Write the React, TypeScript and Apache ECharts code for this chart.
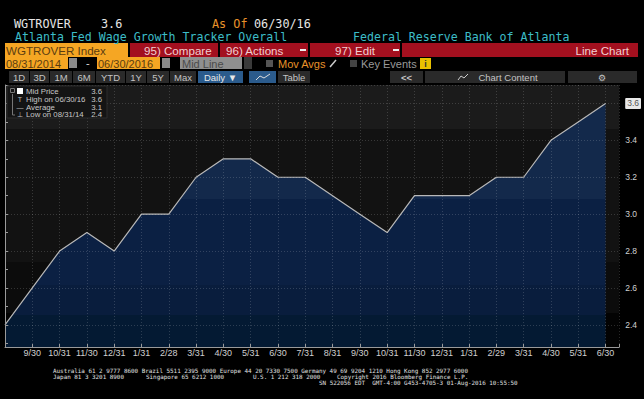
import React, { useEffect, useRef } from "react";
import * as echarts from "echarts";

// ---- data ----
const monthLabels = [
  "8/31", "9/30", "10/31", "11/30", "12/31", "1/31", "2/28", "3/31", "4/30", "5/31", "6/30", "7/31",
  "8/31", "9/30", "10/31", "11/30", "12/31", "1/31", "2/29", "3/31", "4/30", "5/31", "6/30",
];
const wageGrowth = [
  2.4, 2.6, 2.8, 2.9, 2.8, 3.0, 3.0, 3.2, 3.3, 3.3, 3.2, 3.2,
  3.1, 3.0, 2.9, 3.1, 3.1, 3.1, 3.2, 3.2, 3.4, 3.5, 3.6,
];
const legendLabels = ["Mid Price", "High on 06/30/16", "Average", "Low on 08/31/14"];
const tickerName = "WGTROVER";
const asOfDate = "06/30/16";
const titleLeft = "Atlanta Fed Wage Growth Tracker Overall";
const titleRight = "Federal Reserve Bank of Atlanta";
const periodButtons = ["1D", "3D", "1M", "6M", "YTD", "1Y", "5Y", "Max"];
const footerLine1 =
  "Australia 61 2 9777 8600 Brazil 5511 2395 9000 Europe 44 20 7330 7500 Germany 49 69 9204 1210 Hong Kong 852 2977 6000";
const footerLine2a = "Japan 81 3 3201 8900";
const footerLine2b = "Singapore 65 6212 1000";
const footerLine2c = "U.S. 1 212 318 2000";
const footerLine2d = "Copyright 2016 Bloomberg Finance L.P.";
const footerLine3 = "SN 522056 EDT  GMT-4:00 G453-4705-3 01-Aug-2016 10:55:50";

const MONO = '"DejaVu Sans Mono"';
const SANS = '"Liberation Sans"';

const txt = (
  x: number,
  y: number,
  text: string,
  fill: string,
  fontSize: number,
  fontFamily: string,
  align: string = "left",
  fontWeight: string = "normal"
) => ({
  type: "text",
  x,
  y,
  z: 60,
  silent: true,
  style: { text, fill, fontSize, fontFamily, fontWeight, align, verticalAlign: "middle" },
});

const box = (x: number, y: number, w: number, h: number, fill: string, stroke?: string) => ({
  type: "rect",
  z: 50,
  silent: true,
  shape: { x, y, width: w, height: h },
  style: { fill, stroke: stroke || "none", lineWidth: stroke ? 1 : 0 },
});

export default function App() {
  const ref = useRef<HTMLDivElement>(null);

  useEffect(() => {
    if (!ref.current) return;
    const chart = echarts.init(ref.current, undefined, { renderer: "svg" });

    const last = wageGrowth[wageGrowth.length - 1];
    const hi = Math.max(...wageGrowth);
    const lo = Math.min(...wageGrowth);
    const avg = wageGrowth.reduce((a, b) => a + b, 0) / wageGrowth.length;
    const legendValues = [last, hi, avg, lo].map((v) => v.toFixed(1));

    const header: any[] = [
      txt(14, 24, tickerName, "#e6e6e6", 11.8, MONO),
      txt(101, 24, last.toFixed(1), "#e6e6e6", 11.8, MONO),
      txt(212, 24, "As Of", "#e8922a", 11.8, MONO),
      txt(254, 24, asOfDate, "#e6e6e6", 11.8, MONO),
      txt(15, 37, titleLeft, "#3dbdc8", 11.6, MONO),
      txt(353, 37, titleRight, "#3dbdc8", 11.6, MONO),
      // row 3
      box(5, 43, 123, 14, "#f5a623"),
      txt(6, 50.5, tickerName + " Index", "#5a3c10", 11.6, SANS),
      box(130, 43, 88, 14, "#a3101f"),
      txt(144, 50.5, "95) Compare", "#f2cfd2", 11.6, SANS),
      box(220, 43, 88, 14, "#a3101f"),
      txt(226, 50.5, "96) Actions", "#f2cfd2", 11.6, SANS),
      box(300, 49, 6, 2, "#eeeeee"),
      box(310, 43, 90, 14, "#a3101f"),
      txt(335, 50.5, "97) Edit", "#f2cfd2", 11.6, SANS),
      box(393, 49, 6, 2, "#eeeeee"),
      box(402, 43, 236, 14, "#a3101f"),
      txt(629, 50.5, "Line Chart", "#f2cfd2", 11.6, SANS, "right"),
      // row 4
      box(5, 57, 63, 12, "#f5a623"),
      txt(6, 63.5, "08/31/2014", "#5a3c10", 11, SANS),
      box(69, 58, 8, 10, "#8a8a8a"),
      txt(86, 63, "-", "#dddddd", 11, SANS),
      box(97, 57, 63, 12, "#f5a623"),
      txt(98, 63.5, "06/30/2016", "#5a3c10", 11, SANS),
      box(162, 58, 8, 10, "#8a8a8a"),
      box(180, 57, 62, 12, "#8f8f8f"),
      txt(182, 63.5, "Mid Line", "#4a4a4a", 11, SANS),
      box(244, 57, 8, 12, "#3a3a3a"),
      box(266, 60, 7, 7, "#555555"),
      txt(278, 63.5, "Mov Avgs", "#e8922a", 11, SANS),
      {
        type: "line",
        z: 60,
        silent: true,
        shape: { x1: 330, y1: 67, x2: 336, y2: 60 },
        style: { stroke: "#cccccc", lineWidth: 1.5 },
      },
      box(350, 60, 7, 7, "#444444"),
      txt(361, 63.5, "Key Events", "#9a9a9a", 11, SANS),
      box(420, 58, 11, 11, "#e8c000"),
      txt(425.5, 63.5, "i", "#333333", 9, SANS, "center", "bold"),
    ];

    // row 5 buttons
    const btnEdges = [
      [9, 29], [30, 49], [50, 72], [73, 95], [96, 125], [126, 146], [147, 169], [170, 196],
    ];
    periodButtons.forEach((b, i) => {
      const [x0, x1] = btnEdges[i];
      header.push(box(x0, 71, x1 - x0, 12, "#2a2a2a"));
      header.push(txt((x0 + x1) / 2, 77.5, b, "#c4c4c4", 9.5, SANS, "center"));
    });
    header.push(box(198, 71, 45, 12, "#2b5b8c"));
    header.push(txt(220.5, 77.5, "Daily ▼", "#e8e8e8", 9.5, SANS, "center"));
    header.push(box(249, 71, 27, 12, "#2b5b8c"));
    header.push({
      type: "polyline",
      z: 60,
      silent: true,
      shape: { points: [[256, 80], [260, 76], [264, 78], [270, 74]] },
      style: { stroke: "#dddddd", lineWidth: 1, fill: "none" },
    });
    header.push(box(278, 71, 32, 12, "#2a2a2a"));
    header.push(txt(294, 77.5, "Table", "#c4c4c4", 9.5, SANS, "center"));
    header.push(box(390, 71, 33, 12, "#2a2a2a"));
    header.push(txt(406.5, 77.5, "<<", "#c4c4c4", 9.5, SANS, "center", "bold"));
    header.push(box(425, 71, 140, 12, "#2a2a2a"));
    header.push({
      type: "polyline",
      z: 60,
      silent: true,
      shape: { points: [[458, 80], [461, 76], [464, 78], [468, 74]] },
      style: { stroke: "#cccccc", lineWidth: 1, fill: "none" },
    });
    header.push(txt(508, 77.5, "Chart Content", "#c4c4c4", 9.5, SANS, "center"));
    header.push(box(568, 71, 69, 12, "#2a2a2a"));
    header.push(txt(602, 77.5, "⚙", "#c4c4c4", 9, '"DejaVu Sans"', "center"));

    // legend box
    const legendEls: any[] = [
      box(7, 86, 100, 32, "#141414", "#2c2c2c"),
      box(10.5, 88.5, 4, 4, "none", "#777777"),
      {
        type: "polyline",
        z: 60,
        silent: true,
        shape: { points: [[12.5, 94], [12.5, 115], [15, 115]] },
        style: { stroke: "#777777", lineWidth: 1, fill: "none" },
      },
      box(17, 88, 6, 6, "#ffffff"),
      txt(20, 99.5, "T", "#bbbbbb", 7, SANS, "center"),
      txt(20, 107, "—", "#bbbbbb", 7, SANS, "center"),
      txt(20, 114.5, "⊥", "#bbbbbb", 7, '"DejaVu Sans"', "center"),
    ];
    const rowY = [91.5, 99.3, 107, 114.7];
    legendLabels.forEach((l, i) => {
      legendEls.push(txt(26, rowY[i], l, "#c8c8c8", 7.8, SANS));
      legendEls.push(txt(102, rowY[i], legendValues[i], "#c8c8c8", 7.8, SANS, "right"));
    });
    legendEls.forEach((e) => {
      e.z = (e.z || 50) + 50;
    });

    const footer = [
      txt(53, 370.5, footerLine1, "#e0e0e0", 5.9, MONO),
      txt(53, 376.7, footerLine2a, "#e0e0e0", 5.9, MONO),
      txt(146, 376.7, footerLine2b, "#e0e0e0", 5.9, MONO),
      txt(253, 376.7, footerLine2c, "#e0e0e0", 5.9, MONO),
      txt(337, 376.7, footerLine2d, "#e0e0e0", 5.9, MONO),
      txt(319, 382.7, footerLine3, "#e0e0e0", 5.9, MONO),
    ];

    const step = (stops: [number, number, string][]) => {
      const out: { offset: number; color: string }[] = [];
      stops.forEach(([a, b, c]) => {
        out.push({ offset: a, color: c });
        out.push({ offset: b, color: c });
      });
      return out;
    };

    const gridBg = new echarts.graphic.LinearGradient(
      0, 0, 0, 1,
      step([
        [0, 0.168, "#1b1b1b"],
        [0.169, 0.676, "#121212"],
        [0.677, 0.87, "#0c0c0c"],
        [0.871, 1, "#030303"],
      ])
    );
    const areaFill = new echarts.graphic.LinearGradient(
      0, 85, 0, 347,
      step([
        [0, 0.435, "#13294b"],
        [0.436, 0.763, "#0b2043"],
        [0.764, 0.878, "#091d3d"],
        [0.879, 1, "#041a33"],
      ]),
      true
    );

    const gridLine = { show: true, lineStyle: { color: "rgba(255,255,255,0.16)", type: [1, 2], width: 1 } };

    chart.setOption({
      animation: false,
      backgroundColor: "#000000",
      grid: {
        left: 5,
        right: 23,
        top: 85,
        bottom: 52,
        show: true,
        borderWidth: 0,
        backgroundColor: gridBg,
      },
      xAxis: {
        type: "value",
        min: 0,
        max: 22.5,
        interval: 1,
        z: 3,
        axisLine: { show: true, lineStyle: { color: "#9a9a9a", width: 1 } },
        axisTick: { show: true, inside: true, length: 3, lineStyle: { color: "#9a9a9a" } },
        axisLabel: {
          show: true,
          margin: 1,
          color: "#d0d0d0",
          fontSize: 9,
          fontFamily: SANS,
          showMinLabel: false,
          formatter: (v: number) =>
            Number.isInteger(v) && v > 0 && v < monthLabels.length ? monthLabels[v] : "",
        },
        splitLine: gridLine,
      },
      yAxis: {
        type: "value",
        position: "right",
        min: 2.28,
        max: 3.7,
        splitNumber: 7,
        z: 3,
        axisLine: { show: true, lineStyle: { color: "#9a9a9a", width: 1 } },
        axisTick: { show: true, length: 3, lineStyle: { color: "#9a9a9a" } },
        minorTick: { show: true, splitNumber: 2, length: 3, lineStyle: { color: "#9a9a9a" } },
        axisLabel: {
          show: true,
          margin: 6,
          color: "#d0d0d0",
          fontSize: 8.5,
          fontFamily: SANS,
          showMinLabel: false,
          showMaxLabel: false,
          formatter: (v: number) =>
            Math.abs(v - last) < 1e-6 ? `{hl|${v.toFixed(1)}}` : v.toFixed(1),
          rich: {
            hl: {
              backgroundColor: "#e8e8e8",
              color: "#555555",
              fontSize: 8.5,
              fontFamily: SANS,
              padding: [1, 2, 1, 2],
              borderRadius: 1,
            },
          },
        },
        splitLine: gridLine,
      },
      series: [
        {
          type: "line",
          z: 2,
          data: wageGrowth.map((v, i) => [i, v]),
          symbol: "none",
          lineStyle: { color: "#b8b8b8", width: 1.2 },
          areaStyle: { color: areaFill, opacity: 1 },
        },
      ],
      graphic: { elements: [...header, ...legendEls, ...footer] },
    });

    return () => chart.dispose();
  }, []);

  return (
    <div
      ref={ref}
      style={{ position: "absolute", left: 0, top: 0, width: 644, height: 399, background: "#000" }}
    />
  );
}
